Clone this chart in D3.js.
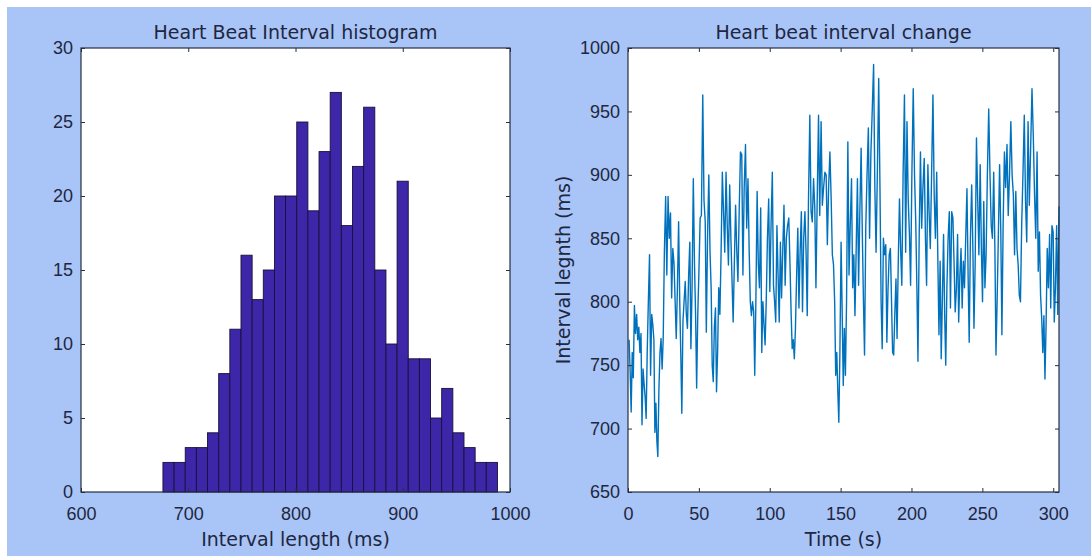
<!DOCTYPE html>
<html>
<head>
<meta charset="utf-8">
<script src="https://cdn.jsdelivr.net/npm/d3@7/dist/d3.min.js"></script>
<style>
  body { margin: 0; background: #fff; }
  svg { display: block; }
  .lbl { font-family: "DejaVu Sans", "Noto Sans", sans-serif; font-size: 19px; fill: #1e2740; }
  .tick text { font-family: "Liberation Sans", Arial, sans-serif; font-size: 18px; fill: #1e2740; }
</style>
</head>
<body>
<svg id="chart" width="1091" height="556"></svg>
<script>
// histogram counts (30 bins)
const histCounts = [2, 2, 3, 3, 4, 8, 11, 16, 13, 15,
  20, 20, 25, 19, 23, 27, 18, 22, 26, 15,
  10, 21, 9, 9, 5, 7, 4, 3, 2, 2]
const histRange = [676.4, 988.3]
const histXTicks = [600, 700, 800, 900, 1000]
const histYTicks = [0, 5, 10, 15, 20, 25, 30]

// beat to beat intervals (ms), in order
const rrIntervals = [
  770, 745, 713, 760, 740, 797, 775, 790, 770, 780, 760,
  775, 703, 747, 735, 725, 708, 760, 800, 837, 742, 790, 782,
  770, 697, 720, 690, 678, 730, 760, 771, 747, 771, 840,
  883, 821, 883, 850, 870, 803, 842, 830, 800, 771, 810, 863,
  800, 758, 712, 784, 800, 816, 790, 779, 820, 847, 763,
  810, 897, 830, 789, 732, 790, 824, 866, 868, 963,
  880, 863, 776, 850, 900, 840, 811, 750, 737, 780,
  795, 729, 760, 811, 790, 837, 902, 870, 839, 902,
  860, 829, 892, 850, 816, 784, 830, 876, 840, 816,
  870, 918,
  916, 821, 890, 924, 858, 897, 840, 800, 789, 800,
  792, 742, 800, 887, 830, 811, 874, 760, 800, 782,
  766, 800, 850, 881, 808, 860, 902, 813, 800, 784,
  860, 820, 784, 847, 803, 840, 876, 813, 850, 860,
  866, 830, 792, 763, 770, 755, 779, 820, 858, 795,
  840, 871, 792, 850, 871, 837, 789, 880, 947, 871,
  863, 897, 874, 811, 880, 947, 868, 942, 876, 890,
  902, 900, 845, 890, 918, 881, 837, 829, 800, 742,
  760, 729, 705, 760, 847, 790, 734, 779,
  742, 800, 926, 821, 860, 897, 811, 837, 789,
  840, 897, 813, 870, 921, 853, 800, 758, 858,
  900, 937, 850, 916, 950, 987, 889, 839, 900,
  976, 889, 800, 763, 850, 837, 845, 768, 810, 837,
  842, 800, 760, 758, 790, 818, 771, 830, 881, 840,
  813, 900, 963, 839, 942, 880, 853, 813, 900, 968,
  900, 863, 811, 753, 850, 918, 858, 890, 913, 850,
  813, 908, 870, 842, 900, 963, 884, 850, 902, 832,
  774, 832, 755, 800, 853, 790, 750, 811, 850, 871,
  795,
  871, 866, 830, 792, 810, 853, 784, 820, 842, 795,
  832, 811, 850, 889, 820, 768, 850, 892, 842, 779,
  830, 929, 880, 837, 908, 842, 800, 879, 811, 837,
  900, 952, 900, 860, 850, 902, 842, 758, 800, 850,
  908, 855, 774, 860, 918, 890, 924, 868, 900, 942,
  900, 884, 837, 887, 842, 829, 805, 800, 860, 900,
  947, 879, 847, 942, 876, 920, 968, 930, 884, 850,
  918, 824, 855, 805, 787, 760, 789, 739, 780, 842,
  811, 853, 795, 860, 855, 784, 811, 860, 790, 875
]
const timeTicks = [0, 50, 100, 150, 200, 250, 300]
const rrTicks = [650, 700, 750, 800, 850, 900, 950, 1000]

const axisColor = '#263042'

function drawFrame(g, x, y, xTicks, yTicks) {
  const [x0, x1] = x.range()
  const [y0, y1] = y.range()

  g.append('rect')
    .attr('x', x0).attr('y', y1)
    .attr('width', x1 - x0).attr('height', y0 - y1)
    .attr('fill', '#fff')

  return function finish() {
    // ticks point inwards on all four sides, like a boxed matlab axes
    g.append('g')
      .attr('transform', `translate(0,${y0})`)
      .call(d3.axisBottom(x).tickValues(xTicks).tickFormat(d3.format('d'))
        .tickSizeInner(-4).tickSizeOuter(0).tickPadding(15))
    g.append('g')
      .attr('transform', `translate(0,${y1})`)
      .call(d3.axisTop(x).tickValues(xTicks).tickSizeInner(-4).tickSizeOuter(0).tickFormat(''))
    g.append('g')
      .attr('transform', `translate(${x0},0)`)
      .call(d3.axisLeft(y).tickValues(yTicks).tickFormat(d3.format('d'))
        .tickSizeInner(-4).tickSizeOuter(0).tickPadding(8))
    g.append('g')
      .attr('transform', `translate(${x1},0)`)
      .call(d3.axisRight(y).tickValues(yTicks).tickSizeInner(-4).tickSizeOuter(0).tickFormat(''))

    g.selectAll('.domain').remove()
    g.selectAll('.tick line').attr('stroke', axisColor)

    g.append('rect')
      .attr('x', x0).attr('y', y1)
      .attr('width', x1 - x0).attr('height', y0 - y1)
      .attr('fill', 'none')
      .attr('stroke', axisColor)
      .attr('stroke-width', 1.2)
  }
}

function drawChart() {
  const svg = d3.select('#chart')

  svg.append('rect')
    .attr('x', 7).attr('y', 7)
    .attr('width', 1084).attr('height', 549)
    .attr('fill', '#a9c4f6')

  // left: histogram
  const hx = d3.scaleLinear().domain([600, 1000]).range([81, 510])
  const hy = d3.scaleLinear().domain([0, 30]).range([492, 48])
  const left = svg.append('g')
  const finishLeft = drawFrame(left, hx, hy, histXTicks, histYTicks)

  const binW = (histRange[1] - histRange[0]) / histCounts.length
  const bins = histCounts.map((c, i) => ({
    x0: histRange[0] + i * binW,
    x1: histRange[0] + (i + 1) * binW,
    count: c
  }))

  left.selectAll('rect.bar')
    .data(bins)
    .join('rect')
    .attr('class', 'bar')
    .attr('x', d => hx(d.x0))
    .attr('width', d => hx(d.x1) - hx(d.x0))
    .attr('y', d => hy(d.count))
    .attr('height', d => hy(0) - hy(d.count))
    .attr('fill', '#3e26a8')
    .attr('stroke', '#16123a')
    .attr('stroke-width', 0.9)

  finishLeft()

  left.append('text')
    .attr('class', 'lbl')
    .attr('x', 295.5).attr('y', 39)
    .attr('text-anchor', 'middle')
    .text('Heart Beat Interval histogram')

  left.append('text')
    .attr('class', 'lbl')
    .attr('x', 295.5).attr('y', 546)
    .attr('text-anchor', 'middle')
    .text('Interval length (ms)')

  // right: interval over time
  let t = 0
  const series = rrIntervals.map(v => {
    t += v / 1000
    return { t: t, v: v }
  })

  const lx = d3.scaleLinear().domain([0, d3.max(series, d => d.t)]).range([628, 1059])
  const ly = d3.scaleLinear().domain([650, 1000]).range([492, 48])
  const right = svg.append('g')
  const finishRight = drawFrame(right, lx, ly, timeTicks, rrTicks)

  right.append('path')
    .datum(series)
    .attr('d', d3.line().x(d => lx(d.t)).y(d => ly(d.v)))
    .attr('fill', 'none')
    .attr('stroke', '#0072bd')
    .attr('stroke-width', 1.4)
    .attr('stroke-linejoin', 'round')

  finishRight()

  right.append('text')
    .attr('class', 'lbl')
    .attr('x', 843.5).attr('y', 39)
    .attr('text-anchor', 'middle')
    .text('Heart beat interval change')

  right.append('text')
    .attr('class', 'lbl')
    .attr('x', 843.5).attr('y', 546)
    .attr('text-anchor', 'middle')
    .text('Time (s)')

  right.append('text')
    .attr('class', 'lbl')
    .attr('transform', 'translate(570,270) rotate(-90)')
    .attr('text-anchor', 'middle')
    .text('Interval legnth (ms)')
}

document.addEventListener('DOMContentLoaded', drawChart, false)
</script>
</body>
</html>
